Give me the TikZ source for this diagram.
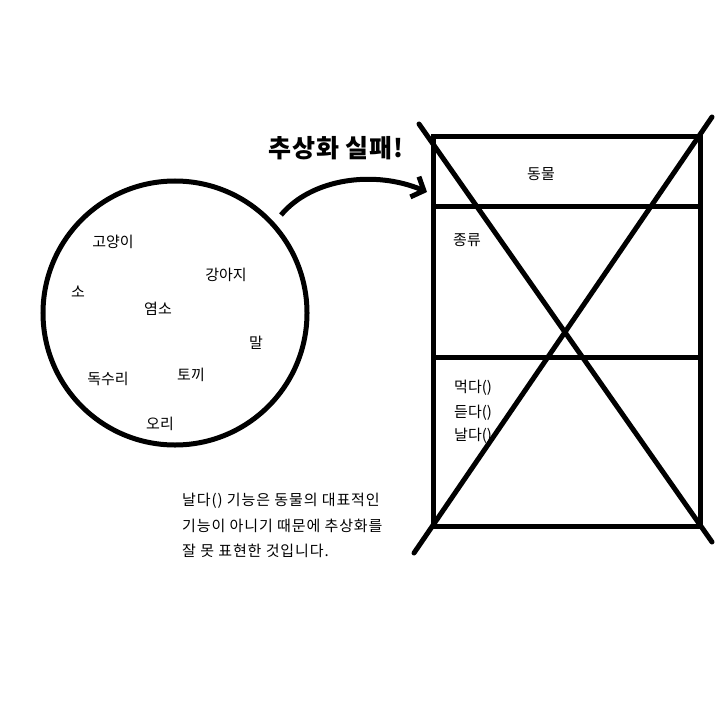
\documentclass[tikz,border=0pt]{standalone}
\usepackage{fontspec}
\setmainfont{Noto Sans CJK KR}
\usetikzlibrary{arrows.meta}
\begin{document}
\begin{tikzpicture}[x=1bp,y=-1bp,
  thick line/.style={line width=5bp},
  lbl/.style={font=\fontsize{15bp}{18bp}\selectfont, inner sep=0pt},
  lbll/.style={lbl, anchor=west},
  note/.style={font=\fontsize{15bp}{18bp}\selectfont\addfontfeature{LetterSpace=6}, inner sep=0pt, anchor=west}]
\useasboundingbox[fill=white] (0,0) rectangle (720,720);
% set of animals
\node[thick line, draw, circle, minimum size=264bp, inner sep=0pt] (set) at (175,313) {};
\node[lbl] (n1) at (113,242) {고양이};
\node[lbl] (n2) at (226,275) {강아지};
\node[lbl] (n3) at (78,292) {소};
\node[lbl] (n4) at (158,309) {염소};
\node[lbl] (n5) at (256,343) {말};
\node[lbl] (n6) at (108,379) {독수리};
\node[lbl] (n7) at (191,375) {토끼};
\node[lbl] (n8) at (160,424) {오리};
% title
\node[font=\fontsize{25bp}{29bp}\selectfont\bfseries\addfontfeature{LetterSpace=4}, inner sep=0pt] (title) at (336,148) {추상화 실패!};
% class box
\node[thick line, draw, rectangle, minimum width=267bp, minimum height=389bp, inner sep=0pt] (box) at (566.5,331.5) {};
\coordinate (d1l) at (433,206); \coordinate (d1r) at (700,206);
\coordinate (d2l) at (433,357); \coordinate (d2r) at (700,357);
\draw[thick line] (d1l) -- (d1r);
\draw[thick line] (d2l) -- (d2r);
\node[lbl] (cname) at (541,174) {동물};
\node[lbll] (attr) at (453,240) {종류};
\node[lbll] (m1) at (454,388) {먹다()};
\node[lbll] (m2) at (454,413) {듣다()};
\node[lbll] (m3) at (454,436) {날다()};
% cross
\coordinate (x1a) at (419,124); \coordinate (x1b) at (712,542);
\coordinate (x2a) at (712,117); \coordinate (x2b) at (414,553);
\draw[thick line, line cap=round] (x1a) -- (x1b);
\draw[thick line, line cap=round] (x2a) -- (x2b);
% arrow
\coordinate (as) at (281,215);
\coordinate (ae) at (427,192);
\draw[thick line, -{Straight Barb[length=10bp, width=22bp, line width=5bp]}] (as) .. controls (312,178) and (375,170) .. (ae);
% note
\node[note] (t1) at (182,501) {날다() 기능은 동물의 대표적인};
\node[note] (t2) at (182,526) {기능이 아니기 때문에 추상화를};
\node[note] (t3) at (182,551) {잘 못 표현한 것입니다.};
\end{tikzpicture}
\end{document}
